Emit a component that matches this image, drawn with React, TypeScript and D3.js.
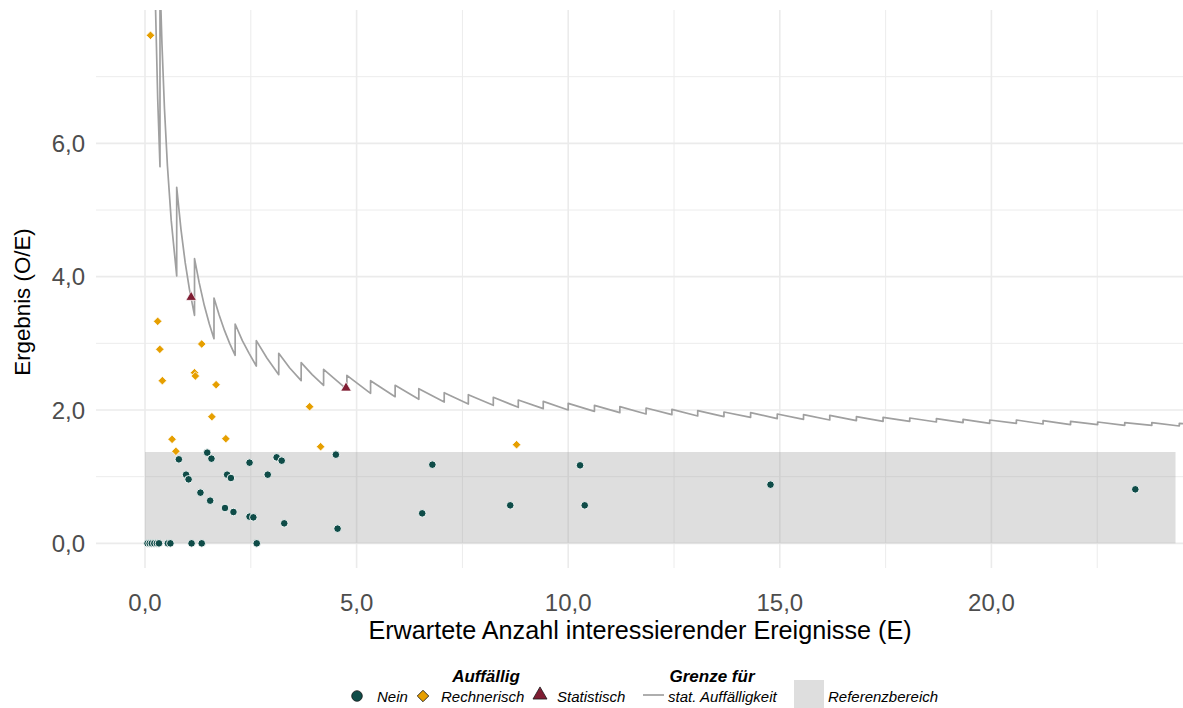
import React, { useEffect, useRef } from 'react';
import * as d3 from 'd3';

// Ergebnis (O/E) vs. erwartete Anzahl (E)
const nein: [number, number][] = [
  [0.06, 0], [0.11, 0], [0.16, 0], [0.22, 0], [0.28, 0], [0.33, 0], [0.54, 0], [0.60, 0],
  [1.10, 0], [1.34, 0], [2.64, 0],
  [0.80, 1.26], [1.47, 1.36], [1.57, 1.27], [0.97, 1.03], [1.03, 0.96], [1.94, 1.03],
  [2.03, 0.98], [2.47, 1.21], [1.31, 0.76], [1.54, 0.64], [1.89, 0.53], [2.09, 0.47],
  [2.47, 0.40], [2.56, 0.39], [2.90, 1.03], [3.11, 1.29], [3.23, 1.24], [3.29, 0.30],
  [4.51, 1.33], [4.55, 0.22], [6.55, 0.45], [6.79, 1.18], [8.63, 0.57], [10.28, 1.17],
  [10.39, 0.57], [14.78, 0.88], [23.4, 0.81],
];

const rechnerisch: [number, number][] = [
  [0.13, 7.62], [0.30, 3.33], [0.35, 2.91], [0.41, 2.44], [1.34, 2.99], [1.17, 2.56],
  [1.19, 2.51], [1.68, 2.38], [1.58, 1.90], [3.89, 2.05], [0.64, 1.56], [0.73, 1.38],
  [1.91, 1.57], [4.15, 1.45], [8.78, 1.48],
];

const statistisch: [number, number][] = [
  [1.09, 3.69], [4.75, 2.33],
];

const grenze: [number, number][] = [
  [0.22, 9.09], [0.25, 8.0], [0.30, 6.67], [0.354, 5.65],
  [0.354, 8.47], [0.40, 7.50], [0.46, 6.52], [0.53, 5.66], [0.62, 4.84], [0.749, 4.01],
  [0.749, 5.34], [0.85, 4.71], [0.95, 4.21], [1.05, 3.81], [1.17, 3.42],
  [1.17, 4.27], [1.28, 3.91], [1.40, 3.57], [1.52, 3.29], [1.63, 3.07],
  [1.63, 3.68], [1.75, 3.43], [1.88, 3.19], [2.0, 3.0], [2.13, 2.82],
  [2.13, 3.29], [2.30, 3.04], [2.46, 2.85], [2.63, 2.66],
  [2.63, 3.04], [2.88, 2.78], [3.16, 2.53],
  [3.16, 2.85], [3.42, 2.63], [3.69, 2.44],
  [3.69, 2.71], [3.95, 2.53], [4.22, 2.37],
  [4.22, 2.61], [4.77, 2.31],
  [4.77, 2.52], [5.33, 2.25],
  [5.33, 2.44], [5.91, 2.20],
  [5.91, 2.37], [6.47, 2.16],
  [6.47, 2.32], [7.07, 2.12],
  [7.07, 2.26], [7.64, 2.09],
  [7.64, 2.23], [8.23, 2.07],
  [8.23, 2.19], [8.82, 2.04],
  [8.82, 2.15], [9.41, 2.02],
  [9.41, 2.13], [10.0, 2.00],
  [10.0, 2.10], [10.62, 1.98],
  [10.62, 2.07], [11.22, 1.96],
  [11.22, 2.05], [11.84, 1.94],
  [11.84, 2.03], [12.45, 1.93],
  [12.45, 2.01], [13.06, 1.91],
  [13.06, 1.99], [13.68, 1.90],
  [13.68, 1.97], [14.31, 1.89],
  [14.31, 1.96], [14.94, 1.87],
  [14.94, 1.94], [15.56, 1.86],
  [15.56, 1.93], [16.18, 1.85],
  [16.18, 1.92], [16.81, 1.84],
  [16.81, 1.90], [17.44, 1.83],
  [17.44, 1.89], [18.07, 1.83],
  [18.07, 1.88], [18.70, 1.82],
  [18.70, 1.87], [19.33, 1.81],
  [19.33, 1.86], [19.96, 1.80],
  [19.96, 1.85], [20.59, 1.80],
  [20.59, 1.85], [21.22, 1.79],
  [21.22, 1.84], [21.87, 1.78],
  [21.87, 1.83], [22.51, 1.78],
  [22.51, 1.82], [23.15, 1.77],
  [23.15, 1.81], [23.79, 1.77],
  [23.79, 1.81], [24.44, 1.76],
  [24.44, 1.80], [24.6, 1.79],
];

// Referenzbereich
const refX: [number, number] = [0, 24.35];
const refY: [number, number] = [0, 1.37];

const xMajor = [0, 5, 10, 15, 20];
const xMinor = [2.5, 7.5, 12.5, 17.5, 22.5];
const yMajor = [0, 2, 4, 6];
const yMinor = [1, 3, 5, 7];

const W = 1183, H = 708;
const FONT = '"Liberation Sans", Arial, Helvetica, sans-serif';
const TEAL = '#0f4c48';
const ORANGE = '#e69f00';
const RED = '#7f1d33';
const LINE = '#a0a0a0';

const App = () => {
  const ref = useRef<SVGSVGElement>(null);

  useEffect(() => {
    const svg = d3.select(ref.current);
    svg.selectAll('*').remove();

    const left = 96, right = 1183, top = 10, bottom = 568;
    const x = d3.scaleLinear().domain([-1.158, 24.527]).range([left, right]);
    const y = d3.scaleLinear().domain([-0.37, 8.0]).range([bottom, top]);
    const fmt = d3.formatLocale({ decimal: ',', thousands: '.', grouping: [3], currency: ['', ''] }).format('.1f');

    svg.append('defs').append('clipPath').attr('id', 'panel')
      .append('rect').attr('x', left).attr('y', top).attr('width', right - left).attr('height', bottom - top);

    // grid
    const grid = svg.append('g');
    grid.selectAll('line.xmin').data(xMinor).join('line')
      .attr('x1', d => x(d)).attr('x2', d => x(d)).attr('y1', top).attr('y2', bottom)
      .attr('stroke', '#ececec').attr('stroke-width', 1);
    grid.selectAll('line.ymin').data(yMinor).join('line')
      .attr('y1', d => y(d)).attr('y2', d => y(d)).attr('x1', left).attr('x2', right)
      .attr('stroke', '#ececec').attr('stroke-width', 1);
    grid.selectAll('line.xmaj').data(xMajor).join('line')
      .attr('x1', d => x(d)).attr('x2', d => x(d)).attr('y1', top).attr('y2', bottom)
      .attr('stroke', '#ebebeb').attr('stroke-width', 1.6);
    grid.selectAll('line.ymaj').data(yMajor).join('line')
      .attr('y1', d => y(d)).attr('y2', d => y(d)).attr('x1', left).attr('x2', right)
      .attr('stroke', '#ebebeb').attr('stroke-width', 1.6);

    const panel = svg.append('g').attr('clip-path', 'url(#panel)');

    // reference band
    panel.append('rect')
      .attr('x', x(refX[0])).attr('width', x(refX[1]) - x(refX[0]))
      .attr('y', y(refY[1])).attr('height', y(refY[0]) - y(refY[1]))
      .attr('fill', '#919191').attr('fill-opacity', 0.3);

    // limit line
    panel.append('path')
      .attr('d', d3.line<[number, number]>().x(d => x(d[0])).y(d => y(d[1]))(grenze))
      .attr('fill', 'none').attr('stroke', LINE).attr('stroke-width', 1.7)
      .attr('stroke-linejoin', 'round');

    // points
    panel.selectAll('circle.nein').data(nein).join('circle')
      .attr('cx', d => x(d[0])).attr('cy', d => y(d[1])).attr('r', 3.8)
      .attr('fill', TEAL).attr('stroke', '#fff').attr('stroke-width', 0.9);

    const diamond = d3.symbol().type(d3.symbolSquare).size(36);
    panel.selectAll('path.rech').data(rechnerisch).join('path')
      .attr('d', diamond())
      .attr('transform', d => `translate(${x(d[0])},${y(d[1])}) rotate(45)`)
      .attr('fill', ORANGE).attr('stroke', '#fff').attr('stroke-width', 0.7);

    const tri = d3.symbol().type(d3.symbolTriangle).size(48);
    panel.selectAll('path.stat').data(statistisch).join('path')
      .attr('d', tri())
      .attr('transform', d => `translate(${x(d[0])},${y(d[1])})`)
      .attr('fill', RED).attr('stroke', '#fff').attr('stroke-width', 0.7);

    // axes text
    const axis = svg.append('g').attr('font-family', FONT);
    axis.selectAll('text.xt').data(xMajor).join('text')
      .attr('x', d => x(d)).attr('y', 611).attr('text-anchor', 'middle')
      .attr('font-size', 24).attr('fill', '#4d4d4d').text(d => fmt(d));
    axis.selectAll('text.yt').data(yMajor).join('text')
      .attr('x', 85).attr('y', d => y(d)).attr('dy', '0.36em').attr('text-anchor', 'end')
      .attr('font-size', 24).attr('fill', '#4d4d4d').text(d => fmt(d));
    axis.append('text')
      .attr('x', 640).attr('y', 639).attr('text-anchor', 'middle')
      .attr('font-size', 25.2).attr('fill', '#000')
      .text('Erwartete Anzahl interessierender Ereignisse (E)');
    axis.append('text')
      .attr('transform', 'translate(30,302) rotate(-90)')
      .attr('text-anchor', 'middle').attr('font-size', 22.3).attr('fill', '#000')
      .text('Ergebnis (O/E)');

    // legend
    const lg = svg.append('g').attr('font-family', FONT);
    const ly = 696;
    lg.append('text').attr('x', 486).attr('y', 682).attr('text-anchor', 'middle')
      .attr('font-size', 17).attr('font-weight', 'bold').attr('font-style', 'italic').text('Auffällig');
    lg.append('text').attr('x', 712).attr('y', 682).attr('text-anchor', 'middle')
      .attr('font-size', 17).attr('font-weight', 'bold').attr('font-style', 'italic').text('Grenze für');

    lg.append('circle').attr('cx', 357).attr('cy', ly).attr('r', 5.3)
      .attr('fill', TEAL).attr('stroke', '#1a1a1a').attr('stroke-width', 0.8);
    lg.append('path').attr('d', d3.symbol().type(d3.symbolSquare).size(66)())
      .attr('transform', `translate(423,${ly}) rotate(45)`)
      .attr('fill', ORANGE).attr('stroke', '#1a1a1a').attr('stroke-width', 0.8);
    lg.append('path').attr('d', d3.symbol().type(d3.symbolTriangle).size(85)())
      .attr('transform', `translate(540,${ly - 1})`)
      .attr('fill', RED).attr('stroke', '#1a1a1a').attr('stroke-width', 0.8);
    lg.append('line').attr('x1', 643).attr('x2', 664).attr('y1', ly - 1).attr('y2', ly - 1)
      .attr('stroke', LINE).attr('stroke-width', 1.7);
    lg.append('rect').attr('x', 794).attr('y', 680).attr('width', 30).attr('height', 30)
      .attr('fill', '#dedede');

    const labels: [number, string][] = [
      [377, 'Nein'], [441, 'Rechnerisch'], [557, 'Statistisch'],
      [668, 'stat. Auffälligkeit'], [828, 'Referenzbereich'],
    ];
    lg.selectAll('text.lab').data(labels).join('text')
      .attr('x', d => d[0]).attr('y', ly + 5.5)
      .attr('font-size', 15).attr('font-style', 'italic').attr('fill', '#000')
      .text(d => d[1]);
  }, []);

  return (
    <svg ref={ref} width={W} height={H}
      style={{ position: 'absolute', left: 0, top: 0, background: '#fff' }}></svg>
  );
};

export default App;
